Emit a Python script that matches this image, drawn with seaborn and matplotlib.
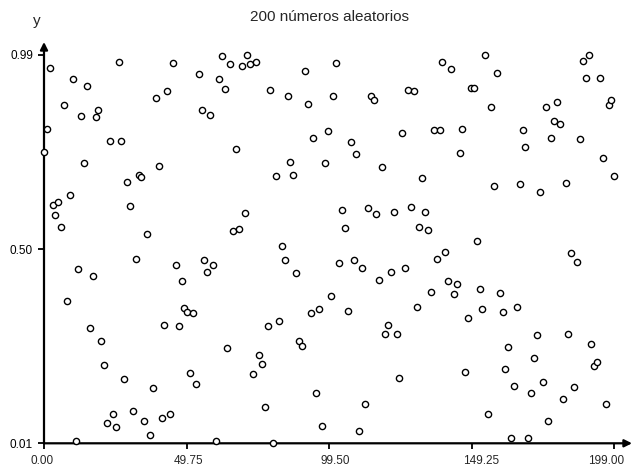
import matplotlib
matplotlib.use("Agg")
import matplotlib.pyplot as plt
import seaborn as sns
import numpy as np
import pandas as pd

sns.set_style("white")
plt.rcParams['font.family'] = ['Liberation Sans', 'DejaVu Sans']

title = "200 números aleatorios"
y_label = "y"
x_tick_values = [0.0, 49.75, 99.5, 149.25, 199.0]
x_tick_labels = ["0.00", "49.75", "99.50", "149.25", "199.00"]
y_tick_values = [0.01, 0.50, 0.99]
y_tick_labels = ["0.01", "0.50", "0.99"]

values = [
    0.744, 0.803, 0.957, 0.610, 0.587, 0.619, 0.556, 0.862, 0.369, 0.637,
    0.928, 0.015, 0.449, 0.835, 0.717, 0.910, 0.300, 0.432, 0.833, 0.851,
    0.268, 0.208, 0.060, 0.773, 0.084, 0.051, 0.972, 0.773, 0.173, 0.669,
    0.608, 0.092, 0.476, 0.687, 0.682, 0.065, 0.539, 0.031, 0.149, 0.880,
    0.710, 0.075, 0.309, 0.899, 0.083, 0.969, 0.460, 0.306, 0.419, 0.351,
    0.342, 0.188, 0.339, 0.160, 0.942, 0.851, 0.472, 0.443, 0.839, 0.460,
    0.015, 0.928, 0.988, 0.904, 0.250, 0.967, 0.546, 0.752, 0.550, 0.961,
    0.592, 0.989, 0.967, 0.185, 0.972, 0.232, 0.211, 0.102, 0.307, 0.901,
    0.010, 0.684, 0.318, 0.508, 0.472, 0.886, 0.719, 0.687, 0.440, 0.269,
    0.255, 0.948, 0.866, 0.339, 0.779, 0.137, 0.348, 0.054, 0.716, 0.798,
    0.381, 0.886, 0.970, 0.464, 0.598, 0.553, 0.344, 0.771, 0.473, 0.740,
    0.042, 0.452, 0.110, 0.604, 0.887, 0.877, 0.589, 0.422, 0.708, 0.286,
    0.309, 0.443, 0.594, 0.286, 0.175, 0.793, 0.452, 0.901, 0.607, 0.899,
    0.354, 0.556, 0.678, 0.594, 0.547, 0.392, 0.800, 0.476, 0.800, 0.972,
    0.493, 0.419, 0.955, 0.387, 0.411, 0.743, 0.803, 0.191, 0.327, 0.907,
    0.907, 0.521, 0.398, 0.348, 0.990, 0.083, 0.859, 0.660, 0.943, 0.390,
    0.342, 0.197, 0.253, 0.024, 0.155, 0.354, 0.664, 0.800, 0.758, 0.024,
    0.137, 0.226, 0.282, 0.645, 0.164, 0.859, 0.066, 0.779, 0.824, 0.871,
    0.815, 0.122, 0.666, 0.286, 0.491, 0.152, 0.466, 0.777, 0.975, 0.931,
    0.990, 0.261, 0.205, 0.214, 0.931, 0.729, 0.110, 0.862, 0.875, 0.684,
]
index = list(range(len(values)))

df = pd.DataFrame({"x": index, "y": values})

W, H = 638, 466
fig = plt.figure(figsize=(W / 100, H / 100), dpi=100)
left_px, right_px = 44, 632
bottom_px, top_px = 443.3, 42
ax = fig.add_axes([left_px / W, 1 - bottom_px / H,
                   (right_px - left_px) / W, (bottom_px - top_px) / H])

px_per_unit_x = 2.866
px_per_unit_y = 396.5
ax.set_xlim(0, (right_px - left_px) / px_per_unit_x)
ax.set_ylim(0.01, 0.01 + (bottom_px - top_px) / px_per_unit_y)

sns.scatterplot(data=df, x="x", y="y", ax=ax, marker="o", s=20,
                facecolor="white", edgecolor="black", linewidth=1.0,
                clip_on=False, zorder=5, legend=False)

for s in ax.spines.values():
    s.set_visible(False)

arrow_kw = dict(arrowstyle="-|>", lw=1.6, color="black", mutation_scale=11,
                shrinkA=0, shrinkB=0)
ax.annotate("", xy=(1.0, 0), xytext=(0, 0), xycoords="axes fraction",
            arrowprops=arrow_kw, annotation_clip=False)
ax.annotate("", xy=(0, 1.0), xytext=(0, 0), xycoords="axes fraction",
            arrowprops=arrow_kw, annotation_clip=False)

ax.set_xticks(x_tick_values)
ax.set_xticklabels([])
ax.set_yticks(y_tick_values)
ax.set_yticklabels(y_tick_labels)
ax.tick_params(axis="both", which="both", direction="out", length=4, width=1.3,
               color="black", labelsize=8.5, labelcolor="black", pad=4,
               bottom=True, left=True)
ax.set_xlabel("")
ax.set_ylabel("")
ax.grid(False)

# x labels: evenly spread across the axis width, last one kept inside canvas
label_px = [42, 188, 335, 481, 606]
for lbl, px in zip(x_tick_labels, label_px):
    fig.text(px / W, 1 - 461 / H, lbl, ha="center", va="center", fontsize=8.5)

fig.text(329 / W, 1 - 17 / H, title, ha="center", va="center", fontsize=11)
fig.text(37 / W, 1 - 21 / H, y_label, ha="center", va="center", fontsize=11)

fig.savefig("out.png", dpi=100, facecolor="white")
